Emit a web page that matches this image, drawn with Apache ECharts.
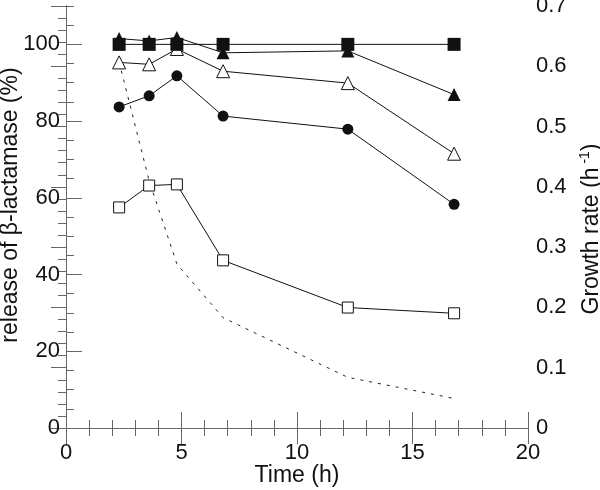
<!DOCTYPE html>
<html>
<head>
<meta charset="utf-8">
<script src="https://cdn.jsdelivr.net/npm/echarts@6/dist/echarts.min.js"></script>
<style>html,body{margin:0;padding:0;background:#fff}#c{width:600px;height:490px}</style>
</head>
<body>
<div id="c"></div>
<script>
// Data
var timeH = [2.3, 3.6, 4.8, 6.8, 12.2, 16.8];
var filledSquares = [100, 100, 100, 100, 100, 100];
var filledTriangles = [101.5, 100.9, 101.8, 97.8, 98.3, 86.9];
var openTriangles = [95.3, 94.8, 98.8, 93.0, 89.9, 71.5];
var filledCircles = [83.7, 86.6, 91.8, 81.3, 77.9, 58.3];
var openSquares = [57.5, 63.2, 63.5, 43.7, 31.4, 29.9];
var growthRate = [0.607, 0.41, 0.272, 0.183, 0.084, 0.049];

var xTicks = [0, 5, 10, 15, 20];
var leftTicks = [0, 20, 40, 60, 80, 100];
var rightTicks = [0, 0.1, 0.2, 0.3, 0.4, 0.5, 0.6, 0.7];

function pairs(v) { return timeH.map(function (t, i) { return [t, v[i]]; }); }

var FONT = 'Liberation Sans';
var AX = '#666';
var INK = '#111';

function marker(sym, size, filled) {
  return {
    symbol: sym, symbolSize: size,
    itemStyle: filled ? {color: INK, borderColor: INK, borderWidth: 0}
                      : {color: '#fff', borderColor: INK, borderWidth: 1},
    lineStyle: {color: INK, width: 1}
  };
}

function lineSeries(name, data, sym, size, filled, z) {
  var m = marker(sym, size, filled);
  return {
    name: name, type: 'line', xAxisIndex: 0, yAxisIndex: 0,
    data: pairs(data), symbol: m.symbol, symbolSize: m.symbolSize,
    showSymbol: true, itemStyle: m.itemStyle, lineStyle: m.lineStyle,
    z: z, animation: false, emphasis: {disabled: true}
  };
}

var chart = echarts.init(document.getElementById('c'), null, {renderer: 'canvas'});
chart.setOption({
  backgroundColor: '#fff',
  animation: false,
  grid: {left: 66, right: 72, top: 6, bottom: 62, containLabel: false, outerBoundsMode: 'none'},
  xAxis: [
    {
      type: 'value', position: 'bottom', min: xTicks[0], max: xTicks[xTicks.length - 1], interval: 5,
      name: 'Time (h)', nameLocation: 'middle', nameGap: 36, nameMoveOverlap: false,
      nameTextStyle: {fontFamily: FONT, fontSize: 23, color: INK},
      axisLine: {show: true, lineStyle: {color: AX, width: 1}},
      axisTick: {show: true, inside: true, length: 16, lineStyle: {color: AX}},
      minorTick: {show: true, splitNumber: 5, length: 8, lineStyle: {color: AX}},
      axisLabel: {fontFamily: FONT, fontSize: 22, color: INK, margin: 14},
      splitLine: {show: false}, minorSplitLine: {show: false}
    },
    {
      type: 'value', position: 'top', min: xTicks[0], max: xTicks[xTicks.length - 1], interval: 5,
      axisLine: {show: true, lineStyle: {color: AX, width: 1}},
      axisTick: {show: true, inside: true, length: 16, lineStyle: {color: AX}},
      minorTick: {show: true, splitNumber: 5, length: 8, lineStyle: {color: AX}},
      axisLabel: {show: false},
      splitLine: {show: false}
    }
  ],
  yAxis: [
    {
      type: 'value', position: 'left', min: 0, max: 110, interval: 20,
      name: 'release of β-lactamase (%)', nameLocation: 'middle', nameGap: 44, nameRotate: 90,
      nameMoveOverlap: false,
      nameTextStyle: {fontFamily: FONT, fontSize: 23, color: INK, padding: [0, 0, 0, 24]},
      axisLine: {show: true, lineStyle: {color: AX, width: 1}},
      axisTick: {show: true, inside: true, length: 16, lineStyle: {color: AX}},
      axisLabel: {fontFamily: FONT, fontSize: 22, color: INK, margin: 6, showMaxLabel: false,
        formatter: function (v) { return leftTicks.indexOf(v) >= 0 ? String(v) : ''; }},
      splitLine: {show: false}
    },
    {
      type: 'value', position: 'right', min: rightTicks[0], max: rightTicks[rightTicks.length - 1], interval: 0.1,
      name: 'Growth rate (h{sup| -1})', nameLocation: 'middle', nameGap: 50, nameRotate: 90,
      nameMoveOverlap: false,
      nameTextStyle: {fontFamily: FONT, fontSize: 23, color: INK, padding: [0, 24, 0, 0],
        rich: {sup: {fontFamily: FONT, fontSize: 14, color: INK, padding: [0, 0, 14, 0]}}},
      axisLine: {show: true, lineStyle: {color: AX, width: 1}},
      axisTick: {show: true, inside: true, length: 15, lineStyle: {color: AX}},
      minorTick: {show: true, splitNumber: 5, length: 8, lineStyle: {color: AX}},
      axisLabel: {fontFamily: FONT, fontSize: 22, color: INK, margin: 8},
      splitLine: {show: false}
    },
    {
      type: 'value', position: 'left', min: 0, max: 110, interval: 5,
      axisLine: {show: false},
      axisTick: {show: true, inside: true, length: 8, lineStyle: {color: AX}},
      axisLabel: {show: false},
      splitLine: {show: false}
    }
  ],
  series: [
    {
      name: 'growth rate', type: 'line', xAxisIndex: 0, yAxisIndex: 1,
      data: pairs(growthRate), showSymbol: false, symbol: 'none',
      lineStyle: {color: '#222', width: 1, type: [3, 6]}, z: 1, animation: false
    },
    lineSeries('open squares', openSquares, 'rect', 11, false, 2),
    lineSeries('filled circles', filledCircles, 'circle', 11, true, 3),
    lineSeries('open triangles', openTriangles, 'triangle', 13, false, 4),
    lineSeries('filled triangles', filledTriangles, 'triangle', 13, true, 5),
    lineSeries('filled squares', filledSquares, 'rect', 13, true, 6)
  ]
});
</script>
</body>
</html>
